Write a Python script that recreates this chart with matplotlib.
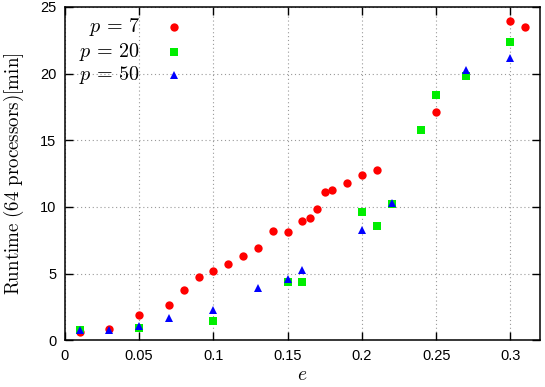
import matplotlib

matplotlib.use("Agg")
import matplotlib.pyplot as plt

plt.rcParams["mathtext.fontset"] = "cm"
plt.rcParams["font.family"] = ["Liberation Sans", "DejaVu Sans"]

# p = 7
e_p7 = [0.01, 0.03, 0.05, 0.07, 0.08, 0.09, 0.10, 0.11, 0.12, 0.13, 0.14, 0.15,
        0.16, 0.165, 0.17, 0.175, 0.18, 0.19, 0.20, 0.21, 0.25, 0.30, 0.31]
t_p7 = [0.6, 0.85, 1.9, 2.65, 3.8, 4.75, 5.2, 5.7, 6.3, 6.9, 8.2, 8.15,
        8.95, 9.15, 9.85, 11.1, 11.3, 11.8, 12.4, 12.8, 17.1, 23.95, 23.5]

# p = 20
e_p20 = [0.01, 0.05, 0.10, 0.15, 0.16, 0.20, 0.21, 0.22, 0.24, 0.25, 0.27, 0.30]
t_p20 = [0.8, 0.95, 1.45, 4.35, 4.4, 9.6, 8.6, 10.2, 15.8, 18.4, 19.8, 22.4]

# p = 50
e_p50 = [0.01, 0.03, 0.05, 0.07, 0.10, 0.13, 0.15, 0.16, 0.20, 0.22, 0.27, 0.30]
t_p50 = [0.8, 0.8, 1.05, 1.65, 2.3, 3.9, 4.6, 5.3, 8.3, 10.3, 20.3, 21.2]

x_ticks = [0, 0.05, 0.1, 0.15, 0.2, 0.25, 0.3]
x_tick_labels = ["0", "0.05", "0.1", "0.15", "0.2", "0.25", "0.3"]
y_ticks = [0, 5, 10, 15, 20, 25]

series = [
    (e_p7, t_p7, r"$p\,=\,7$", "o", "#ff0000", 6.0),
    (e_p20, t_p20, r"$p\,=\,20$", "s", "#00ee00", 5.3),
    (e_p50, t_p50, r"$p\,=\,50$", "^", "#0000ff", 5.3),
]

fig = plt.figure(figsize=(5.45, 3.87), dpi=100)
ax = fig.add_axes([0.119, 0.121, 0.872, 0.861])

for x, y, label, marker, color, ms in series:
    ax.plot(x, y, linestyle="none", marker=marker, color=color, markersize=ms,
            markeredgewidth=0, label=label)

ax.set_xlim(0, 0.32)
ax.set_ylim(0, 25)
ax.set_xticks(x_ticks)
ax.set_xticklabels(x_tick_labels)
ax.set_yticks(y_ticks)
ax.tick_params(direction="in", length=6, width=1, top=True, right=True,
               labelsize=10.5, pad=6)
ax.grid(True, linestyle=(0, (1, 2.5)), color="#999999", linewidth=0.8)
for s in ax.spines.values():
    s.set_linewidth(1.1)

ax.set_xlabel("$e$", fontsize=14, labelpad=3)
ax.set_ylabel(r"$\mathrm{Runtime\ (64\ processors)[min]}$", fontsize=13.7, labelpad=10)

# gnuplot-style key: label right-aligned, sample marker to the right
rows_y = [0.94, 0.865, 0.796]
for (x, y, label, marker, color, ms), ry in zip(series, rows_y):
    ax.text(0.158, ry, label, transform=ax.transAxes, ha="right", va="center",
            fontsize=14.5, zorder=5)
    ax.plot([0.229], [ry], transform=ax.transAxes, linestyle="none", marker=marker,
            color=color, markersize=ms, markeredgewidth=0, clip_on=False, zorder=5)

fig.savefig("out.png", dpi=100)
